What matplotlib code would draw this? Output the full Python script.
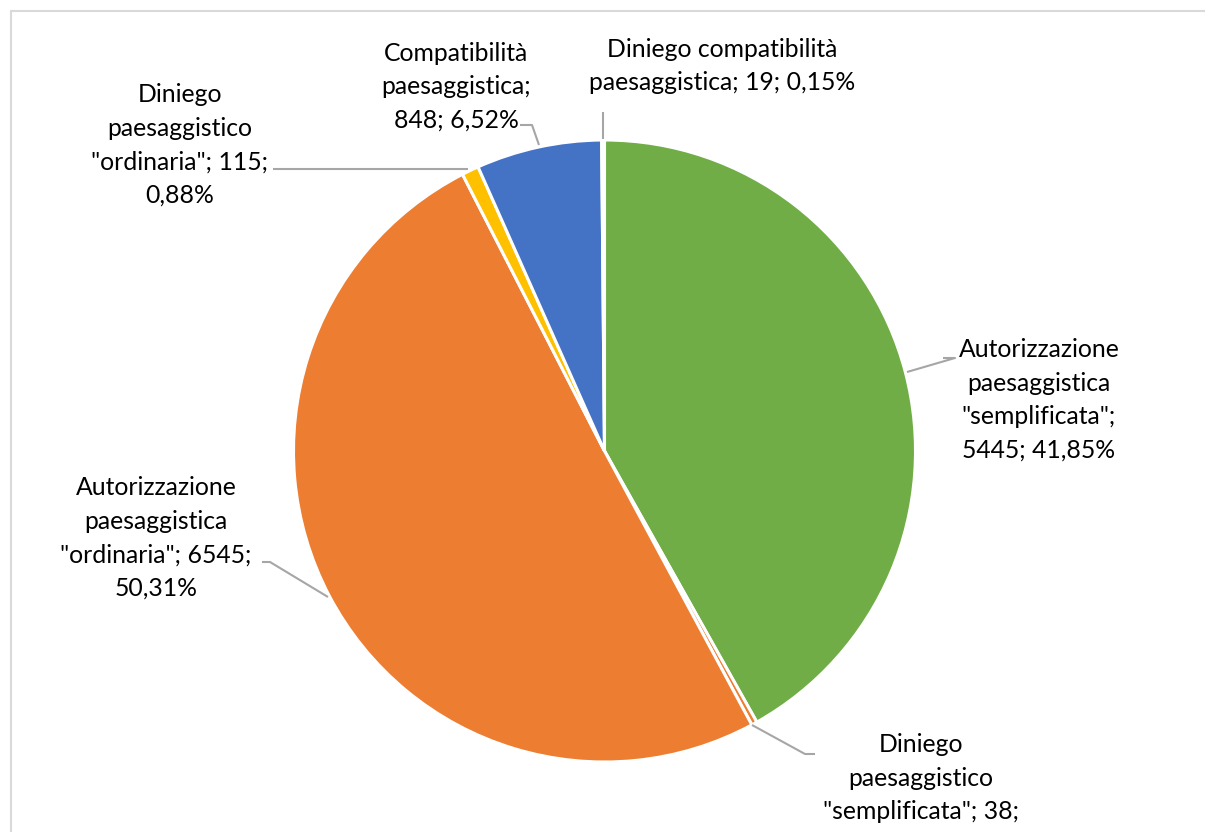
import matplotlib.pyplot as plt
from matplotlib.patches import Rectangle

# slice data, clockwise from 12 o'clock
names = ['Autorizzazione\npaesaggistica\n"semplificata"',
         'Diniego\npaesaggistico\n"semplificata"',
         'Autorizzazione\npaesaggistica\n"ordinaria"',
         'Diniego\npaesaggistico\n"ordinaria"',
         'Compatibilità\npaesaggistica',
         'Diniego compatibilità\npaesaggistica']
values = [5445, 38, 6545, 115, 848, 19]
colors = ['#70AD47', '#ED7D31', '#ED7D31', '#FFC000', '#4472C4', '#5B9BD5']

total = sum(values)
pct = [f'{v / total * 100:.2f}'.replace('.', ',') + '%' for v in values]

W, H = 1205, 832
fig = plt.figure(figsize=(W / 100, H / 100), dpi=100)
ax = fig.add_axes([0, 0, 1, 1])

ax.pie(values, colors=colors, startangle=90, counterclock=False,
       center=(604.5, H - 451), radius=311,
       wedgeprops=dict(edgecolor='white', linewidth=2.2))

ax.set_xlim(0, W)
ax.set_ylim(0, H)
ax.set_aspect('equal')
ax.axis('off')

# chart frame
ax.add_patch(Rectangle((10.5, -20), W, H - 11 + 20, fill=False,
                       edgecolor='#D9D9D9', linewidth=1.5))

font = dict(family='Lato', fontsize=17.8, color='black', ha='center',
            va='center', linespacing=1.55)

def Y(y):
    return H - y

# how each label wraps after the name
tails = [';\n{v}; {p}', '; {v};\n{p}', '; {v};\n{p}', '; {v};\n{p}',
         ';\n{v}; {p}', '; {v}; {p}']
pos = [(1039, 400), (921, 795), (156, 538), (180, 145), (456, 87), (722, 66)]
for i, (x, y) in enumerate(pos):
    t = names[i] + tails[i].format(v=values[i], p=pct[i])
    ax.text(x, Y(y), t, **font)

# leader lines
leaders = [
    [(943, 358), (955, 358), (907, 372)],
    [(752, 725), (805, 754), (815, 754)],
    [(262, 562), (270, 562), (328, 597)],
    [(273, 169), (468, 169)],
    [(520, 125), (532, 125), (539, 145)],
    [(603, 112), (603, 139)],
]
for pts in leaders:
    xs = [p[0] for p in pts]
    ys = [Y(p[1]) for p in pts]
    ax.plot(xs, ys, color='#A6A6A6', linewidth=1.5, solid_capstyle='butt')

fig.savefig('out.png', dpi=100, facecolor='white')
